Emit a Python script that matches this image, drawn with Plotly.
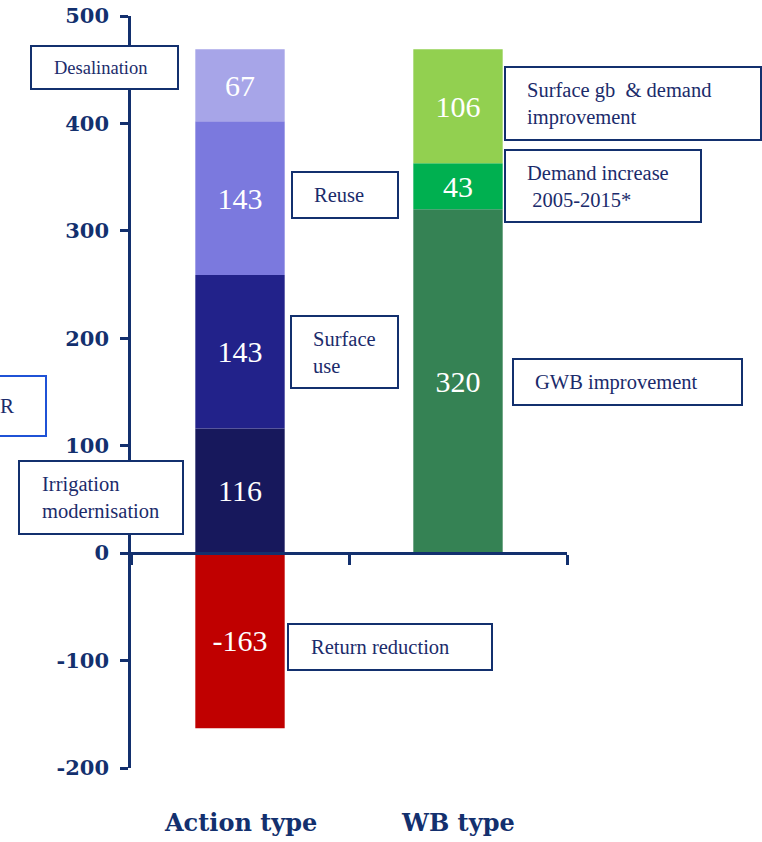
import plotly.graph_objects as go

# ---- data -------------------------------------------------------------
categories = ["Action type", "WB type"]

action_values = [116, 143, 143, 67, -163]
action_names = ["Irrigation modernisation", "Surface use", "Reuse",
                "Desalination", "Return reduction"]
action_colors = ["#17185c", "#22228a", "#7b79de", "#a7a5e8", "#c00000"]

wb_values = [320, 43, 106]
wb_names = ["GWB improvement", "Demand increase 2005-2015*",
            "Surface gb & demand improvement"]
wb_colors = ["#358254", "#00b050", "#92d050"]

y_ticks = [-200, -100, 0, 100, 200, 300, 400, 500]
y_tick_labels = ["-200", "-100", "0", "100", "200", "300", "400", "500"]
y_range = [-200, 500]

# ---- styling ----------------------------------------------------------
NAVY = "#13306e"
TEXT_NAVY = "#1b2b6b"
BAR_FONT = dict(family="Liberation Serif", size=30, color="white")

fig = go.Figure()

def add_segments(cat, values, names, colors):
    for v, n, c in zip(values, names, colors):
        fig.add_trace(go.Bar(
            x=[cat], y=[v], name=n, width=0.41,
            marker=dict(color=c, line=dict(width=0)),
            text=[str(v)], textposition="inside", insidetextanchor="middle",
            textfont=BAR_FONT, constraintext="none", hoverinfo="skip",
        ))

add_segments(categories[0], action_values, action_names, action_colors)
add_segments(categories[1], wb_values, wb_names, wb_colors)

# ---- layout geometry (pixels) ----------------------------------------
FIG_W, FIG_H = 762, 842
M_L, M_T, M_R, M_B = 131, 16, 195, 74
PLOT_W = FIG_W - M_L - M_R
PLOT_H = FIG_H - M_T - M_B

def px_x(px):
    return (px - M_L) / PLOT_W

def px_y(py):
    return (M_T + PLOT_H - py) / PLOT_H

zero_pos = (0 - y_range[0]) / (y_range[1] - y_range[0])

# label boxes: (x0, y0, x1, y1, text, text_left, font size, border colour)
boxes = [
    (31, 46, 178, 89, "Desalination", 52, 18.5, NAVY),
    (292, 172, 398, 218, "Reuse", 312, 20.5, NAVY),
    (291, 316, 398, 388, "Surface<br>use", 311, 20.5, NAVY),
    (19, 461, 183, 534, "Irrigation<br>modernisation", 40, 20.5, NAVY),
    (288, 624, 492, 670, "Return reduction", 309, 20.5, NAVY),
    (505, 67, 761, 140, "Surface gb &nbsp;&amp; demand<br>improvement", 525, 20.5, NAVY),
    (505, 150, 701, 222, "Demand increase<br>&nbsp;2005-2015*", 525, 20.5, NAVY),
    (513, 359, 742, 405, "GWB improvement", 533, 20.5, NAVY),
    (-20, 376, 46, 436, "R", -2, 21, "#1f52d6"),
]

shapes = []
annotations = []
for x0, y0, x1, y1, txt, tl, fs, bc in boxes:
    shapes.append(dict(
        type="rect", xref="paper", yref="paper",
        x0=px_x(x0), x1=px_x(x1), y0=px_y(y1), y1=px_y(y0),
        line=dict(color=bc, width=2), fillcolor="white", layer="above",
    ))
    annotations.append(dict(
        xref="paper", yref="paper", x=px_x(tl), y=px_y((y0 + y1) / 2),
        xanchor="left", yanchor="middle", text=txt, showarrow=False,
        align="left", font=dict(family="Liberation Serif", size=fs, color=TEXT_NAVY),
    ))

# category names under the chart
for cat in categories:
    annotations.append(dict(
        xref="x", yref="paper", x=cat, y=px_y(822),
        xanchor="center", yanchor="middle", text=cat, showarrow=False,
        font=dict(family="DejaVu Serif", size=24, color=NAVY, weight="bold"),
    ))

fig.update_layout(
    width=FIG_W, height=FIG_H,
    margin=dict(l=M_L, r=M_R, t=M_T, b=M_B, pad=0, autoexpand=False),
    barmode="relative",
    showlegend=False,
    plot_bgcolor="white", paper_bgcolor="white",
    shapes=shapes, annotations=annotations,
    xaxis=dict(
        type="category", categoryorder="array", categoryarray=categories,
        anchor="free", position=zero_pos,
        showline=True, linecolor=NAVY, linewidth=2.5,
        ticks="outside", tickson="boundaries", ticklen=10, tickwidth=2.5,
        tickcolor=NAVY, showticklabels=False, showgrid=False, zeroline=False,
    ),
    yaxis=dict(
        range=y_range, tickvals=y_ticks, ticktext=y_tick_labels,
        showline=True, linecolor=NAVY, linewidth=2.5,
        ticks="outside", ticklen=8, tickwidth=2.5, tickcolor=NAVY,
        ticklabelstandoff=7,
        tickfont=dict(family="DejaVu Serif", size=21, color=NAVY, weight="bold"),
        showgrid=False, zeroline=False,
    ),
)

fig.write_html("out.html")
